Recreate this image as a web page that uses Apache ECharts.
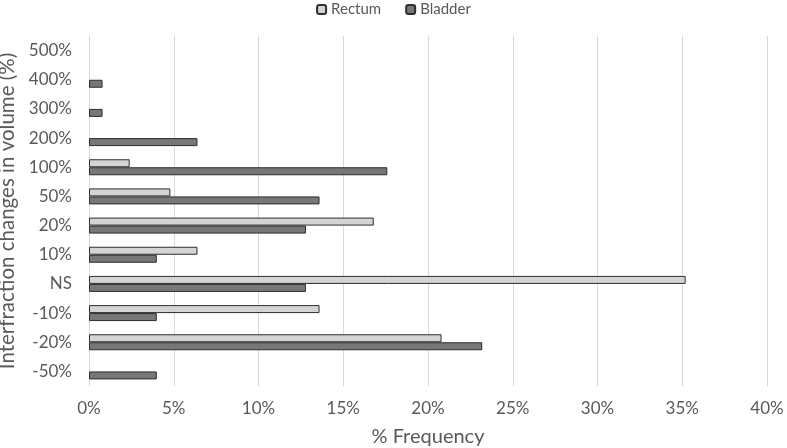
<!DOCTYPE html>
<html><head><meta charset="utf-8">
<script src="https://cdn.jsdelivr.net/npm/echarts@6/dist/echarts.min.js"></script>
<style>html,body{margin:0;padding:0;background:#fff}#c{width:787px;height:448px}</style>
</head><body><div id="c"></div>
<script>
const categories = ['-50%','-20%','-10%','NS','10%','20%','50%','100%','200%','300%','400%','500%'];
const rectum  = [0, 20.8, 13.6, 35.2, 6.4, 16.8, 4.8, 2.4, 0, 0, 0, 0];
const bladder = [4.0, 23.2, 4.0, 12.8, 4.0, 12.8, 13.6, 17.6, 6.4, 0.8, 0.8, 0];
const xTicks = {min: 0, max: 40, interval: 5};
const font = 'Lato, "Open Sans", sans-serif';
const hideZero = arr => arr.map(v => (v === 0 ? null : v));
const chart = echarts.init(document.getElementById('c'));
chart.setOption({
  animation: false,
  textStyle: {fontFamily: font},
  legend: {top: -3, left: 'center', itemWidth: 9, itemHeight: 9, itemGap: 24,
    textStyle: {color: '#595959', fontSize: 15, fontFamily: font},
    data: ['Rectum', 'Bladder']},
  grid: {left: 89, right: 20, top: 36, bottom: 62, containLabel: false, outerBoundsMode: 'none'},
  xAxis: {type: 'value', min: xTicks.min, max: xTicks.max, interval: xTicks.interval,
    name: '% Frequency', nameLocation: 'middle', nameGap: 41,
    nameTextStyle: {color: '#595959', fontSize: 20, fontFamily: font},
    axisLine: {show: false}, axisTick: {show: false},
    axisLabel: {color: '#595959', fontSize: 17, margin: 14, formatter: v => v + '%'},
    splitLine: {lineStyle: {color: '#d9d9d9', width: 1}}},
  yAxis: {type: 'category', data: categories,
    name: 'Interfraction changes in volume (%)', nameLocation: 'middle', nameGap: 64,
    nameTextStyle: {color: '#595959', fontSize: 20.5, fontFamily: font},
    axisLine: {show: false}, axisTick: {show: false},
    axisLabel: {color: '#595959', fontSize: 17, margin: 17}},
  series: [
    {name: 'Rectum', type: 'bar', data: hideZero(rectum), barWidth: 8, barGap: '0%',
      itemStyle: {color: '#d4d4d4', borderColor: '#2e2e2e', borderWidth: 1}},
    {name: 'Bladder', type: 'bar', data: hideZero(bladder), barWidth: 8, barGap: '0%',
      itemStyle: {color: '#777777', borderColor: '#2e2e2e', borderWidth: 1}}
  ]
});
</script></body></html>
